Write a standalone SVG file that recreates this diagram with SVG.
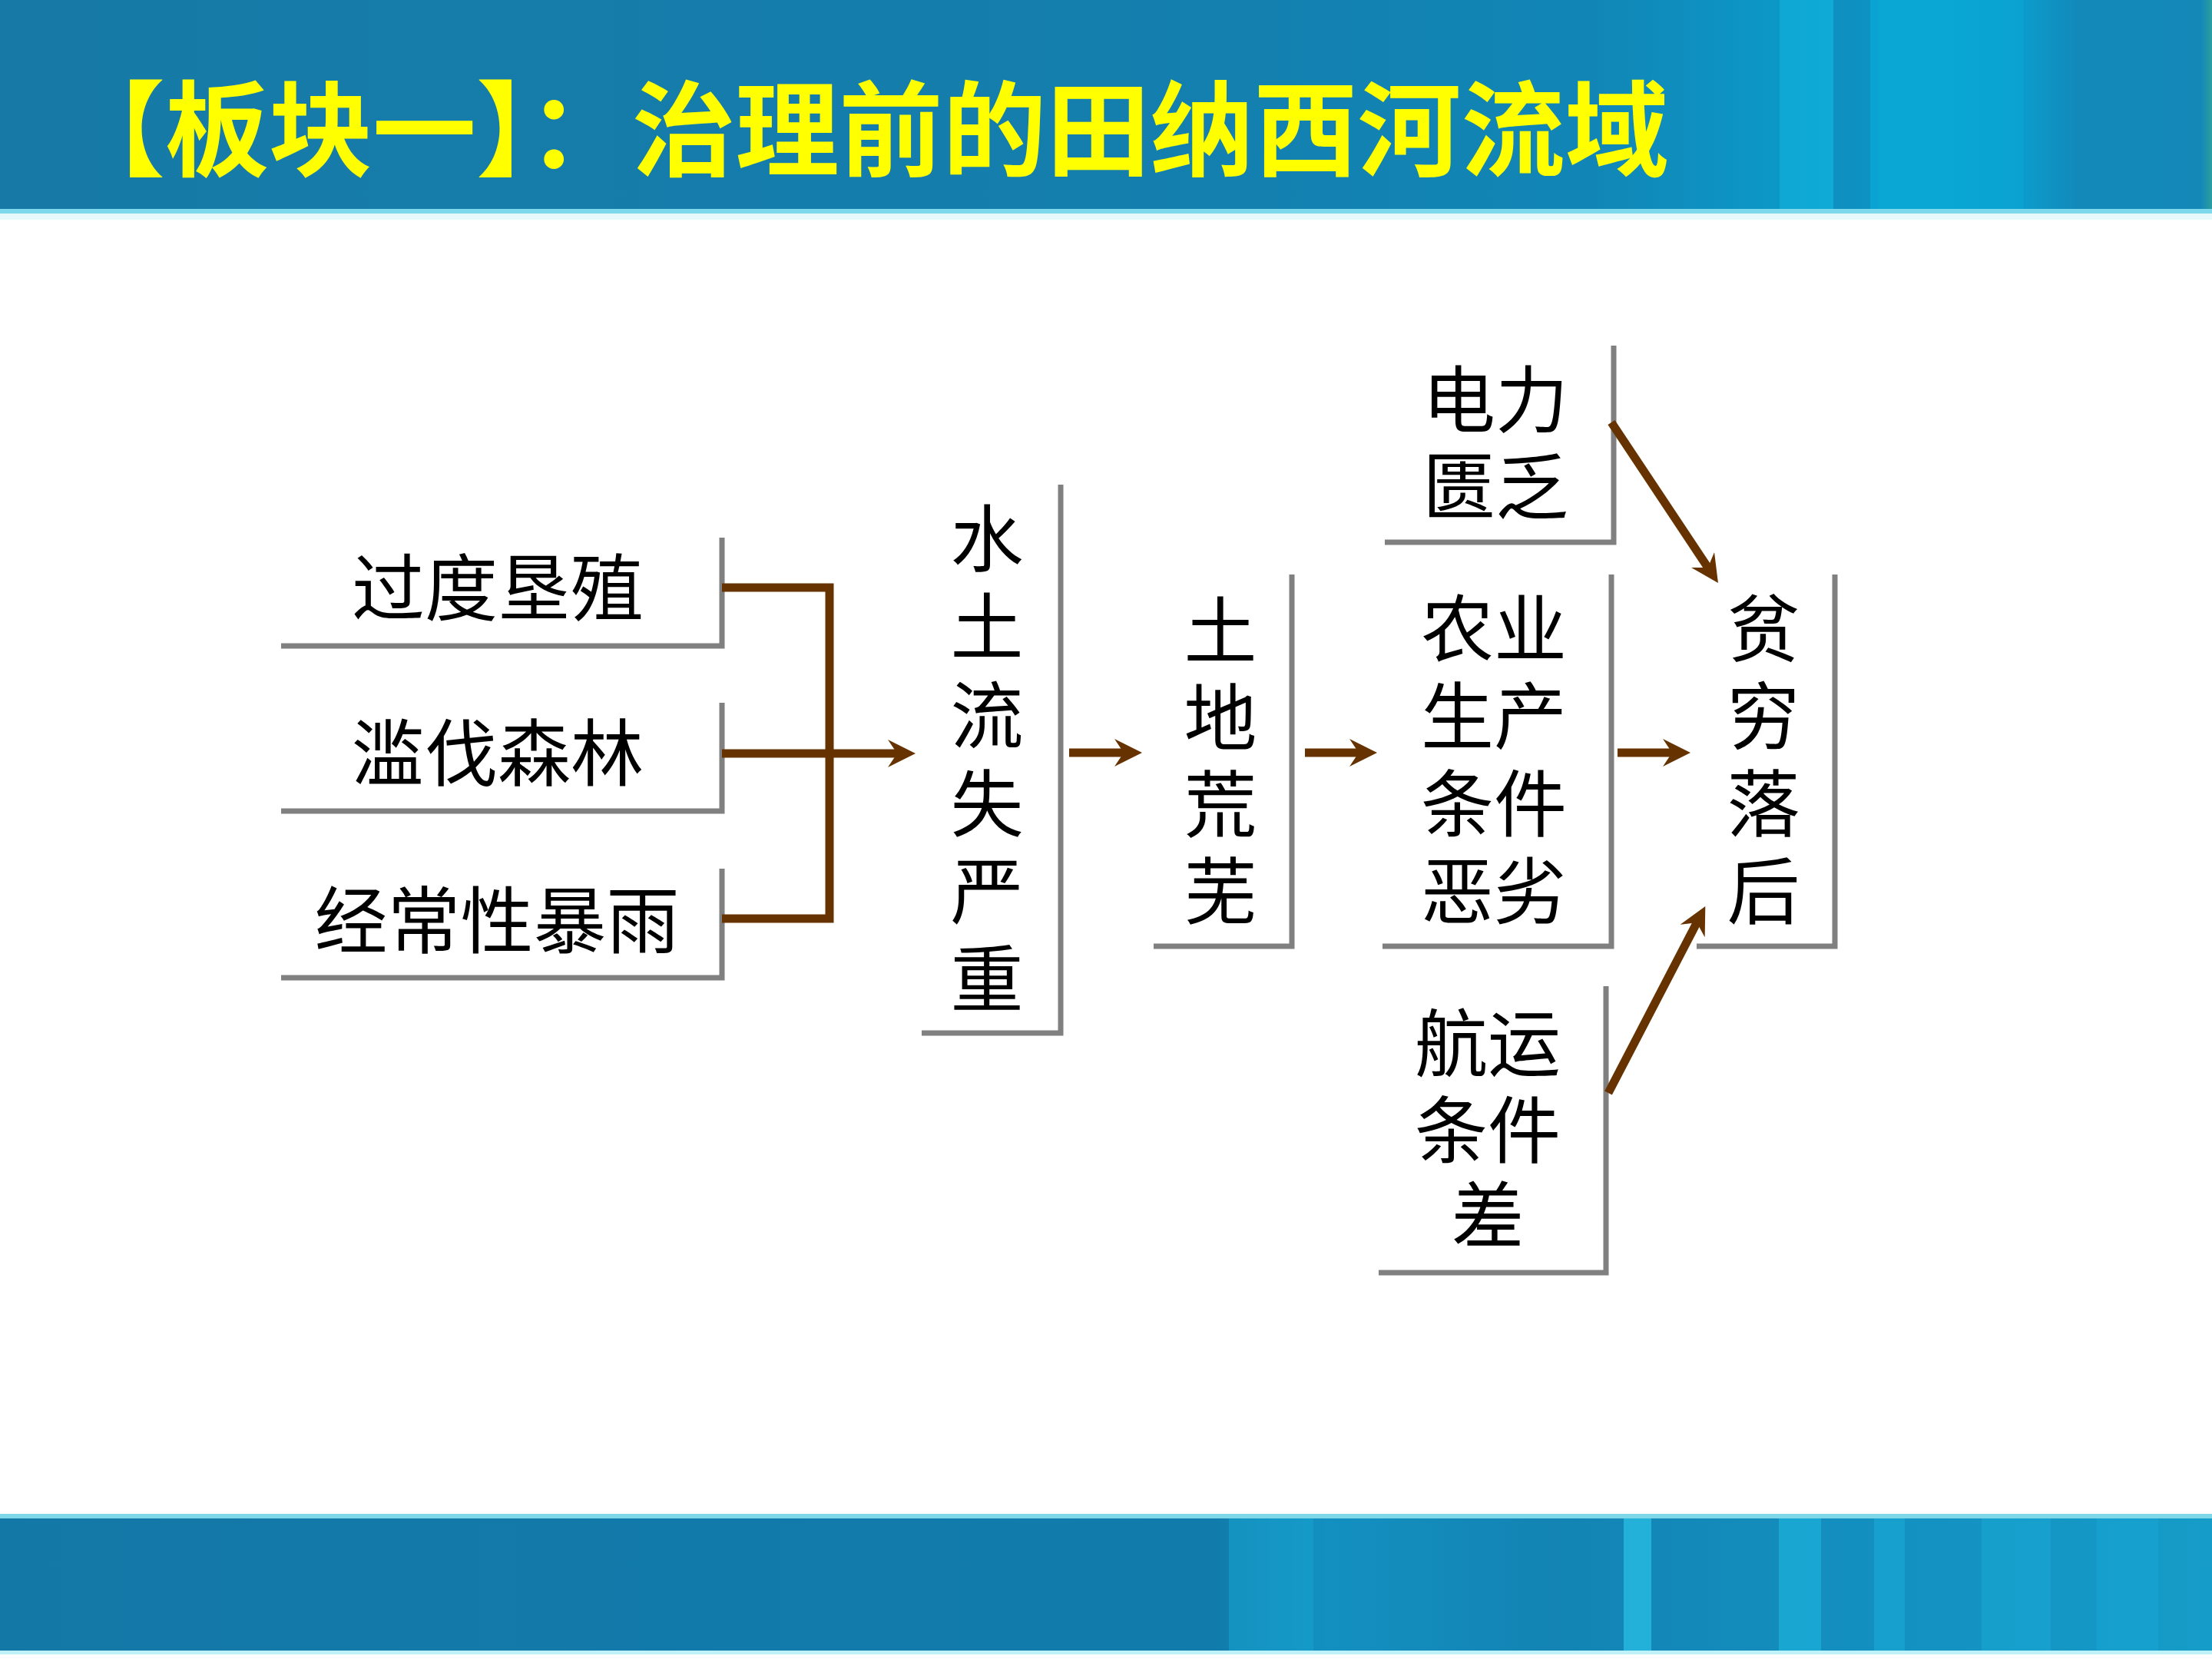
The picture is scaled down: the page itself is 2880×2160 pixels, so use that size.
<svg xmlns="http://www.w3.org/2000/svg" width="2880" height="2160" viewBox="0 0 2880 2160">
<defs>
<style>
.t{font-family:"Noto Sans CJK SC","Noto Sans",sans-serif;font-size:95px;fill:#000;text-anchor:middle}
.sh{fill:none;stroke:#808080;stroke-width:7;stroke-linejoin:miter}
.c{fill:none;stroke:#663300;stroke-width:11}
.a{marker-end:url(#ah)}
.title{font-family:"Noto Sans CJK SC","Noto Sans",sans-serif;font-size:135px;font-weight:bold;fill:#FFFF00}
</style>
<marker id="ah" markerUnits="userSpaceOnUse" markerWidth="36" markerHeight="36" viewBox="0 0 36 36" refX="18" refY="18" orient="auto">
<path d="M0,0 L36,18 L0,36 L12,18 z" fill="#663300"/>
</marker>
<linearGradient id="hg" x1="0" y1="0" x2="1" y2="0">
<stop offset="0" stop-color="#177AA6"/>
<stop offset="0.5" stop-color="#147EAD"/>
<stop offset="0.72" stop-color="#1186B6"/>
<stop offset="0.80" stop-color="#0C97C6"/>
<stop offset="0.86" stop-color="#0AA6D4"/>
<stop offset="0.91" stop-color="#0A9FCF"/>
<stop offset="0.94" stop-color="#1289B9"/>
<stop offset="0.995" stop-color="#1489B8"/>
<stop offset="1" stop-color="#2A9E9E"/>
</linearGradient>
<linearGradient id="bg" x1="0" y1="0" x2="1" y2="0">
<stop offset="0" stop-color="#1478A6"/>
<stop offset="0.3" stop-color="#127AAA"/>
<stop offset="0.55" stop-color="#117CAC"/>
<stop offset="0.6" stop-color="#1390C0"/>
<stop offset="0.7" stop-color="#1384B4"/>
<stop offset="0.85" stop-color="#1390C0"/>
<stop offset="1" stop-color="#169CC8"/>
</linearGradient>
</defs>
<rect width="2880" height="2160" fill="#FFFFFF"/>
<g id="header">
<rect x="0" y="0" width="2880" height="274" fill="url(#hg)"/>
<rect x="2317" y="0" width="70" height="274" fill="#12B2DC" opacity="0.6"/>
<rect x="2387" y="0" width="48" height="274" fill="#1182B4" opacity="0.5"/>
<rect x="2445" y="0" width="190" height="274" fill="#0BAAD8" opacity="0.4"/>
<rect x="0" y="272" width="2880" height="6" fill="#7ED9EC"/>
<rect x="0" y="278" width="2880" height="8" fill="#E6FAFC"/>
<text class="title" x="80" y="219">【板块一】：治理前的田纳西河流域</text>
</g>
<g id="footer">
<rect x="0" y="1973" width="2880" height="178" fill="url(#bg)"/>
<rect x="1600" y="1977" width="110" height="172" fill="#18A6D2" opacity="0.5"/>
<rect x="2114" y="1977" width="36" height="172" fill="#28BCE2" opacity="0.8"/>
<rect x="2316" y="1977" width="55" height="172" fill="#1CB0DA" opacity="0.7"/>
<rect x="2440" y="1977" width="40" height="172" fill="#1CB0DA" opacity="0.5"/>
<rect x="2580" y="1977" width="90" height="172" fill="#1AAAD6" opacity="0.5"/>
<rect x="2730" y="1977" width="80" height="172" fill="#1AAAD6" opacity="0.4"/>
<rect x="0" y="1971" width="2880" height="6" fill="#7FD8EA"/>
<rect x="0" y="2149" width="2880" height="5" fill="#BFF2F8"/>
</g>
<g id="n1">
<path class="sh" d="M366,841 H940 V700"/>
<text class="t" x="648" y="801">过度垦殖</text>
</g>
<g id="n2">
<path class="sh" d="M366,1056 H940 V915"/>
<text class="t" x="648" y="1016">滥伐森林</text>
</g>
<g id="n3">
<path class="sh" d="M366,1273 H940 V1131"/>
<text class="t" x="647" y="1234">经常性暴雨</text>
</g>
<g id="n4">
<path class="sh" d="M1200,1345 H1381 V631"/>
<text class="t"><tspan x="1285" y="737">水</tspan><tspan x="1285" y="852">土</tspan><tspan x="1285" y="967">流</tspan><tspan x="1285" y="1082">失</tspan><tspan x="1285" y="1196">严</tspan><tspan x="1285" y="1310">重</tspan></text>
</g>
<g id="n5">
<path class="sh" d="M1502,1232 H1682 V748"/>
<text class="t"><tspan x="1589" y="857">土</tspan><tspan x="1589" y="970">地</tspan><tspan x="1589" y="1083">荒</tspan><tspan x="1589" y="1196">芜</tspan></text>
</g>
<g id="n6">
<path class="sh" d="M1803,706 H2101 V450"/>
<text class="t"><tspan x="1947" y="556">电力</tspan><tspan x="1947" y="669">匮乏</tspan></text>
</g>
<g id="n7">
<path class="sh" d="M1800,1232 H2098 V748"/>
<text class="t"><tspan x="1945" y="854">农业</tspan><tspan x="1945" y="968">生产</tspan><tspan x="1945" y="1082">条件</tspan><tspan x="1945" y="1196">恶劣</tspan></text>
</g>
<g id="n8">
<path class="sh" d="M2209,1232 H2389 V748"/>
<text class="t"><tspan x="2296" y="854">贫</tspan><tspan x="2296" y="968">穷</tspan><tspan x="2296" y="1082">落</tspan><tspan x="2296" y="1196">后</tspan></text>
</g>
<g id="n9">
<path class="sh" d="M1795,1657 H2091 V1284"/>
<text class="t"><tspan x="1937" y="1394">航运</tspan><tspan x="1937" y="1507">条件</tspan><tspan x="1937" y="1618">差</tspan></text>
</g>
<g id="connectors">
<path class="c" d="M940,765 H1080 V1196 H940"/>
<path class="c a" d="M940,981 H1174"/>
<path class="c a" d="M1392,980 H1469"/>
<path class="c a" d="M1699,980 H1775"/>
<path class="c a" d="M2106,980 H2183"/>
<path class="c a" d="M2098,550 L2227,744"/>
<path class="c a" d="M2094,1423 L2212,1196"/>
</g>
</svg>
